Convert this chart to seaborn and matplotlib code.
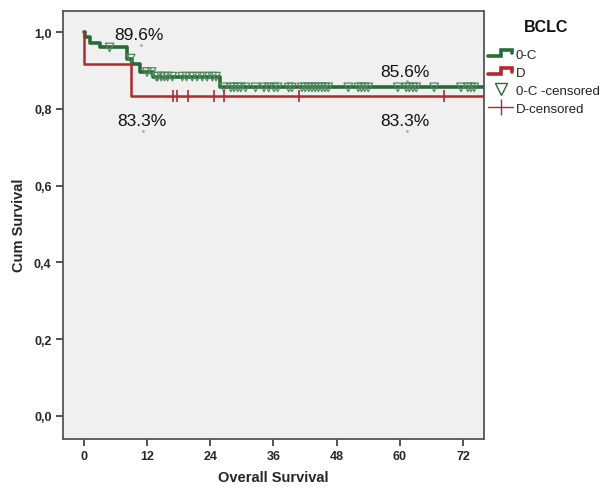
import numpy as np
import pandas as pd
import matplotlib
matplotlib.use("Agg")
import matplotlib.pyplot as plt
from matplotlib.legend_handler import HandlerBase
from matplotlib.lines import Line2D
import seaborn as sns

# Kaplan-Meier step functions (time in months, survival after each step)
oc_times = [0.0, 0.3, 1.2, 3.1, 8.2, 9.2, 10.7, 13.2, 25.8]
oc_surv = [1.0, 0.986, 0.972, 0.960, 0.931, 0.917, 0.896, 0.884, 0.856]
d_times = [0.0, 0.1, 8.9]
d_surv = [1.0, 0.917, 0.833]

# Censored observations
oc_cens = [4.9, 8.9, 12.0, 12.9, 13.8, 14.0, 14.7, 15.3, 15.9, 16.8, 18.7, 19.5,
           20.6, 21.5, 22.5, 23.4, 24.4, 25.1, 26.6, 27.9, 28.5, 29.2, 29.8, 30.7,
           32.6, 34.2, 35.1, 36.1, 36.8, 38.9, 39.5, 41.4, 42.0, 42.7, 43.3, 43.9,
           44.5, 45.2, 45.8, 46.4, 50.2, 52.1, 52.7, 53.3, 54.0, 59.6, 61.2, 61.8,
           62.5, 63.1, 66.5, 71.6, 72.9, 73.5, 74.1]
d_cens = [16.9, 17.6, 19.7, 24.8, 26.6, 40.8, 68.4]

# Annotated survival rates: (x, y of label, text)
labels_x = [10.5, 11.0, 61.0, 61.0]
labels_y = [0.993, 0.769, 0.898, 0.769]
labels_txt = ["89.6%", "83.3%", "85.6%", "83.3%"]

x_ticks = [0, 12, 24, 36, 48, 60, 72]
y_ticks = [0.0, 0.2, 0.4, 0.6, 0.8, 1.0]
x_max = 76.0

green = "#276b36"
red = "#b3282d"


def step_value(times, surv, t):
    idx = np.searchsorted(times, t, side="right") - 1
    return np.asarray(surv)[idx]


def step_frame(times, surv, group):
    return pd.DataFrame({"t": list(times) + [x_max],
                         "s": list(surv) + [surv[-1]],
                         "group": group})


curves = pd.concat([step_frame(oc_times, oc_surv, "0-C"),
                    step_frame(d_times, d_surv, "D")], ignore_index=True)
oc_c = pd.DataFrame({"t": oc_cens, "s": step_value(oc_times, oc_surv, oc_cens)})
d_c = pd.DataFrame({"t": d_cens, "s": step_value(d_times, d_surv, d_cens)})

sns.set_theme(style="ticks")
plt.rcParams["font.family"] = ["Liberation Sans", "DejaVu Sans"]

fig = plt.figure(figsize=(6.0, 4.89), dpi=100)
ax = fig.add_axes([0.1045, 0.101, 0.7025, 0.8745])
ax.set_facecolor("#f0f0f0")

sns.lineplot(data=curves[curves.group == "0-C"], x="t", y="s", ax=ax,
             drawstyle="steps-post", color=green, lw=2.6, estimator=None,
             legend=False)
sns.lineplot(data=curves[curves.group == "D"], x="t", y="s", ax=ax,
             drawstyle="steps-post", color=red, lw=1.8, estimator=None,
             legend=False)
sns.scatterplot(data=oc_c, x="t", y="s", ax=ax, marker="v", s=38,
                facecolor="none", edgecolor="#4f8a5c", linewidth=0.9,
                legend=False, zorder=4)
sns.scatterplot(data=d_c, x="t", y="s", ax=ax, marker="|", s=70,
                color=red, linewidth=1.2, legend=False, zorder=4)

for lx, ly, lt in zip(labels_x, labels_y, labels_txt):
    ax.text(lx, ly, lt, ha="center", va="center", fontsize=12.5,
            color="#111111")
    ax.plot([lx + 0.3], [ly - 0.026], marker=".", ms=1.5, color="#999999")

ax.set_xlim(-4.0, x_max)
ax.set_ylim(-0.059, 1.055)
ax.set_xticks(x_ticks)
ax.set_yticks(y_ticks)
ax.set_yticklabels([f"{v:.1f}".replace(".", ",") for v in y_ticks])
for lab in ax.get_xticklabels() + ax.get_yticklabels():
    lab.set_fontweight("bold")
    lab.set_fontsize(9)
ax.tick_params(length=5, width=1.2, color="#333333", pad=3)
for sp in ax.spines.values():
    sp.set_color("#555555")
    sp.set_linewidth(1.3)
ax.set_xlabel("Overall Survival", fontsize=10.5, fontweight="bold", labelpad=6)
ax.set_ylabel("Cum Survival", fontsize=10.5, fontweight="bold", labelpad=6)


class StepHandler(HandlerBase):
    def create_artists(self, legend, orig_handle, xd, yd, width, height,
                       fontsize, trans):
        w, h = width, height
        xs = np.array([0.0, 0.5, 0.5, 0.95, 0.95]) * w - xd
        ys = np.array([0.15, 0.15, 0.85, 0.85, 0.45]) * h - yd
        line = Line2D(xs, ys, color=orig_handle.get_color(), lw=2.6,
                      solid_joinstyle="miter", transform=trans)
        return [line]


fig.text(546 / 600, 1 - 28 / 489, "BCLC", ha="center", va="center",
         fontsize=11.5, fontweight="bold", color="#111111")

h_oc = Line2D([], [], color=green)
h_d = Line2D([], [], color=red)
h_occ = Line2D([], [], ls="none", marker="v", mfc="none", mec=green, ms=8,
               mew=1.0)
h_dc = Line2D([], [], color=red, lw=1.0, marker="|", ms=11, mew=1.0)
leg = fig.legend([h_oc, h_d, h_occ, h_dc],
                 ["0-C", "D", "0-C -censored", "D-censored"],
                 handler_map={h_oc: StepHandler(), h_d: StepHandler()},
                 loc="upper left", bbox_to_anchor=(0.805, 1 - 44 / 489),
                 frameon=False, fontsize=9.5,
                 handlelength=1.9, handletextpad=0.2, labelspacing=0.45,
                 borderaxespad=0)
for t in leg.get_texts():
    t.set_color("#222222")

fig.savefig("out.png", dpi=100, facecolor="white")
